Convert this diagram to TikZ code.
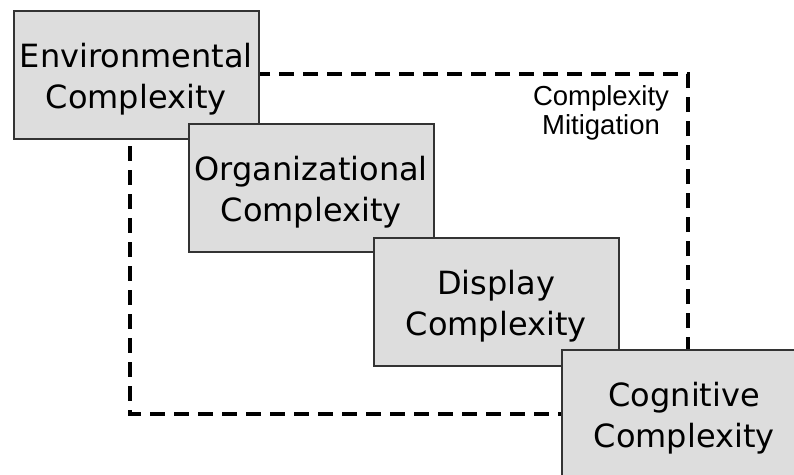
\documentclass[tikz,border=0pt]{standalone}
\usepackage{fontspec}
\setmainfont{DejaVu Sans}
\newfontfamily\mitfont{Liberation Sans}
\definecolor{boxgray}{RGB}{221,221,221}
\definecolor{edgegray}{RGB}{51,51,51}
\tikzset{
  layer/.style={rectangle, draw=edgegray, fill=boxgray, line width=1.5pt,
    minimum width=245pt, minimum height=128pt, anchor=north west,
    align=center, font=\fontsize{32}{41}\selectfont, text height=74pt},
  mitigation/.style={dashed, dash pattern=on 15pt off 9pt, line width=4pt}
}
\begin{document}
\begin{tikzpicture}[x=1pt, y=-1pt]
  \useasboundingbox (0,0) rectangle (794,474);
  % Dashed mitigation frame (behind the boxes)
  \draw[mitigation] (130,74) rectangle (688,414);
  \node[font=\mitfont\fontsize{27.5}{28.5}\selectfont, align=center, inner sep=0pt] (mit) at (601,113) {Complexity\\Mitigation};

  % Stacked complexity boxes
  \node[layer] (env) at (13,10) {Environmental\\Complexity};
  \node[layer] (org) at (188,123) {Organizational\\Complexity};
  \node[layer] (disp) at (373,237) {Display\\Complexity};
  \node[layer] (cog) at (561,349) {Cognitive\\Complexity};
\end{tikzpicture}
\end{document}
